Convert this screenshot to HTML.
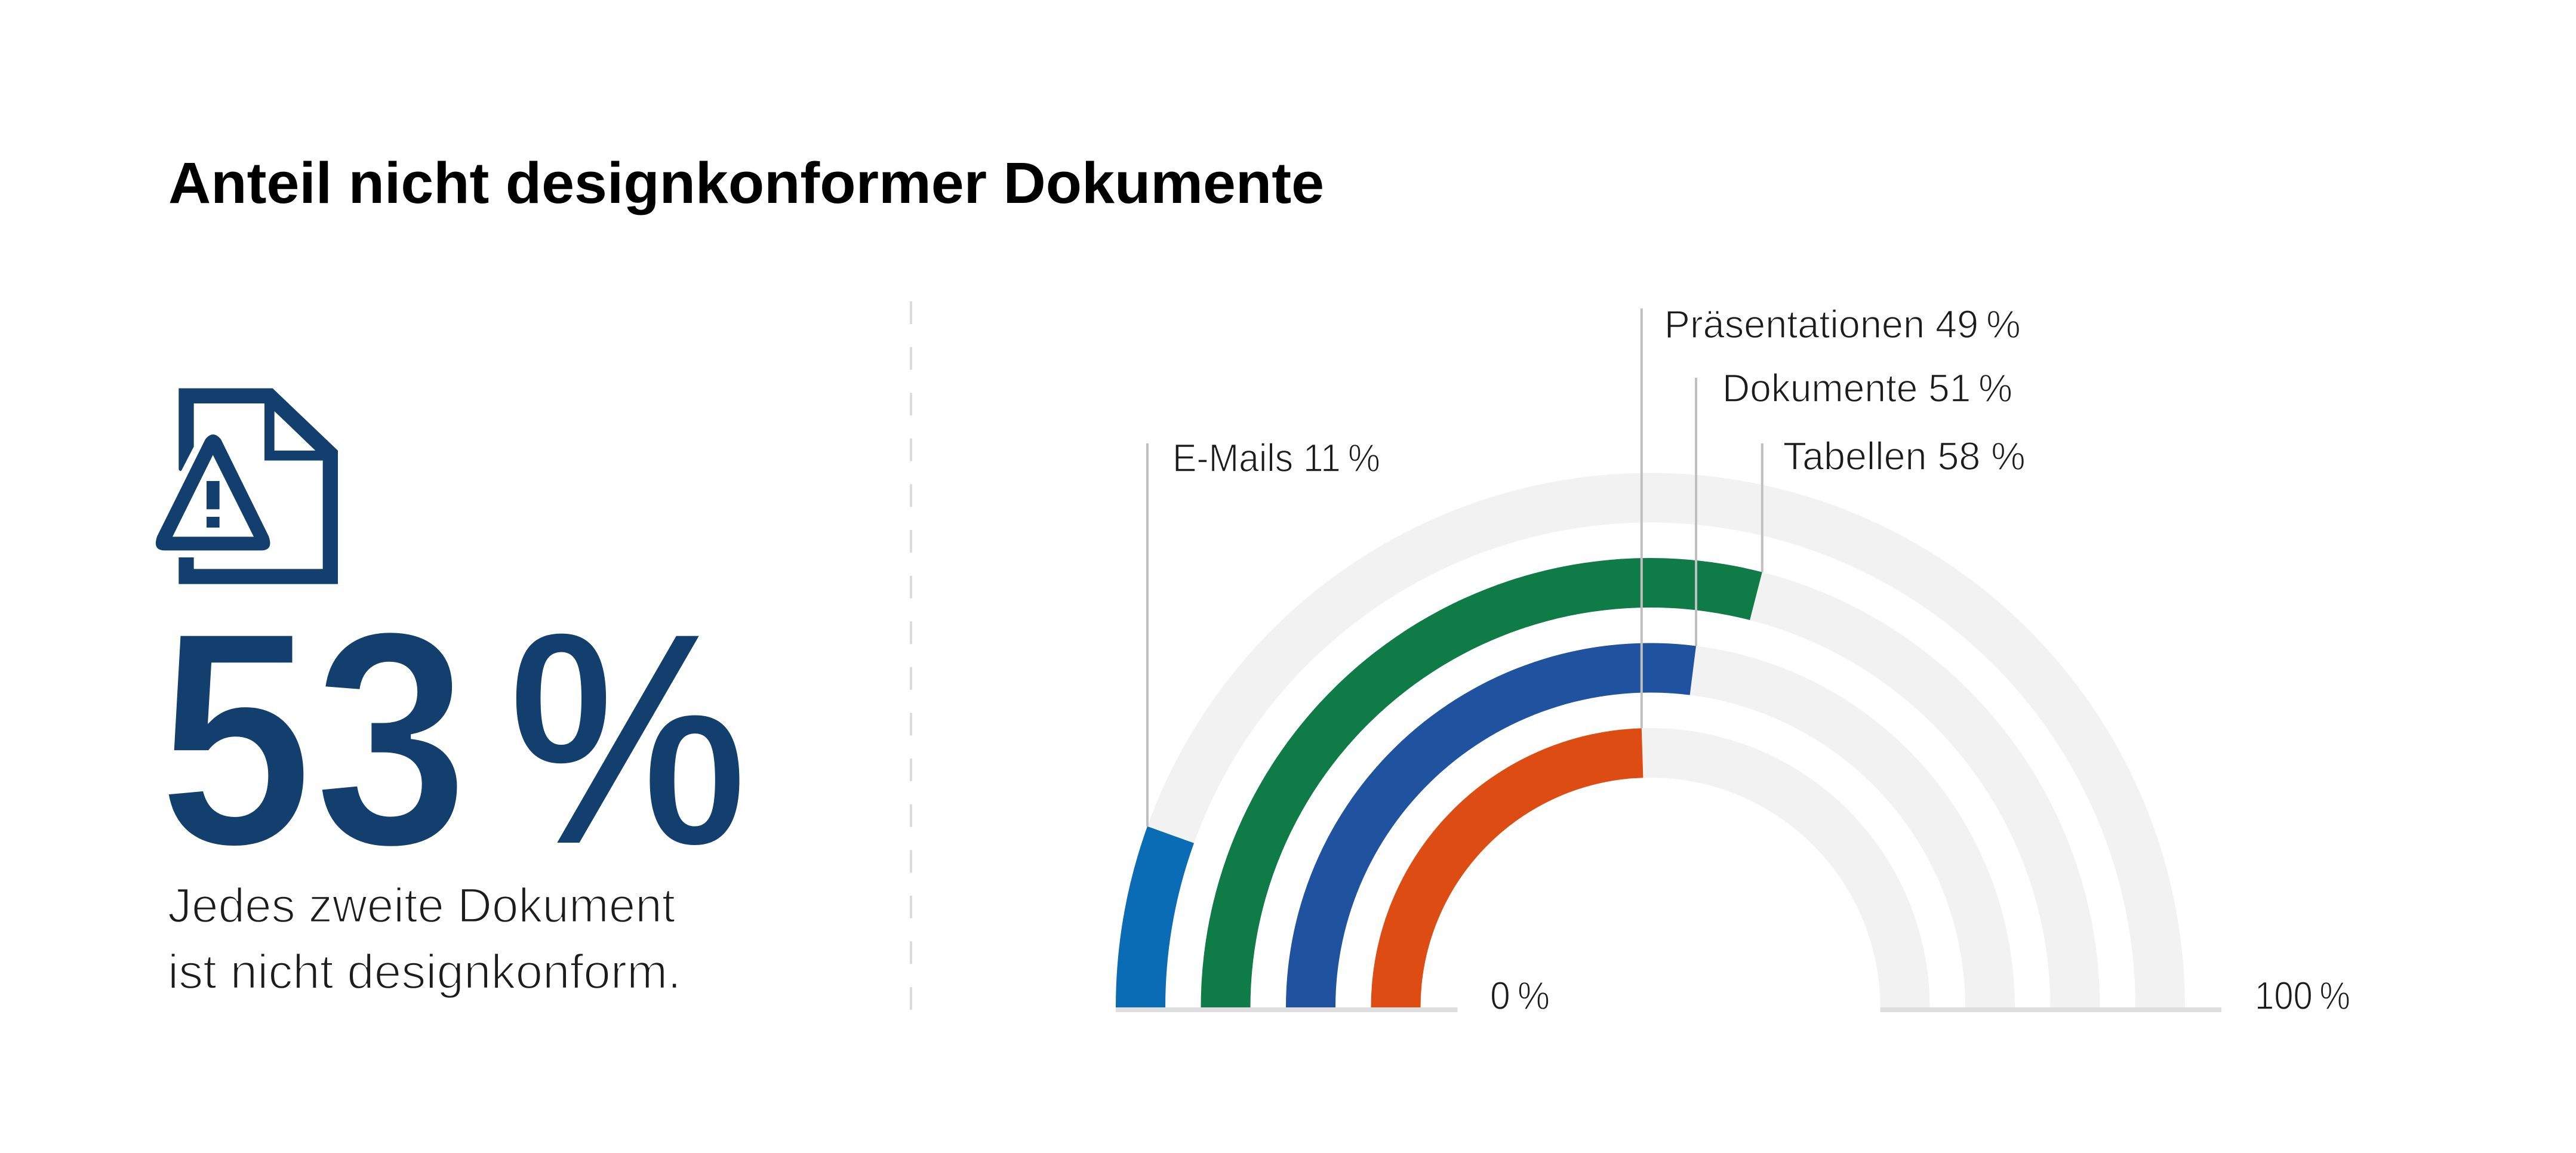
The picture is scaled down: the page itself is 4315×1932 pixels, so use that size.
<!DOCTYPE html>
<html lang="de">
<head>
<meta charset="utf-8">
<title>Anteil nicht designkonformer Dokumente</title>
<style>
html,body{margin:0;padding:0;background:#fff;width:4315px;height:1932px;overflow:hidden}
svg{display:block}
text{font-family:"Liberation Sans",sans-serif}
.light{fill:#1c1c1c;stroke:#fff;paint-order:normal}
</style>
</head>
<body>
<svg id="root" xmlns="http://www.w3.org/2000/svg" width="4315" height="1932" viewBox="0 0 4315 1932">
  <rect width="4315" height="1932" fill="#fff"/>
  <text x="282" y="340" font-size="97" font-weight="700" fill="#000" textLength="1936" lengthAdjust="spacingAndGlyphs">Anteil nicht designkonformer Dokumente</text>

  <g transform="translate(240 630) scale(.33333)" fill="#123f6d" fill-rule="evenodd">
    <path d="M178 62H650L978 375V1046H178V912H254V970H902V425H609V138H254V355L192 475Q184 482 178 470ZM659 177V375H865Z"/>
    <path d="M312 318Q350 270 390 318L630 805Q655 875 595 877H105Q45 875 70 805ZM350 397L147 808H555Z"/>
    <rect x="318" y="528" width="65" height="142"/>
    <rect x="318" y="708" width="65" height="54"/>
  </g>

  <text x="264" y="1416" font-size="515" font-weight="700" fill="#123f6d" stroke="#fff" stroke-width="8" textLength="522" lengthAdjust="spacingAndGlyphs">53</text>
  <text x="850" y="1416" font-size="515" font-weight="700" fill="#123f6d" stroke="#fff" stroke-width="8" textLength="404" lengthAdjust="spacingAndGlyphs">%</text>
  <text class="light" x="281" y="1545" font-size="82" stroke-width="2.4" textLength="850" lengthAdjust="spacingAndGlyphs">Jedes zweite Dokument</text>
  <text class="light" x="281" y="1656" font-size="82" stroke-width="2.4" textLength="860" lengthAdjust="spacingAndGlyphs">ist nicht designkonform.</text>

  <line x1="1526" y1="505" x2="1526" y2="1697" stroke="#dcdcdc" stroke-width="4" stroke-dasharray="38 38.6"/>

  <g id="chart"></g>
</svg>
<script>
// Chart data, outermost ring first
const categories = ['E-Mails', 'Tabellen', 'Dokumente', 'Präsentationen'];
// Drawn share of each ring in percent, read from the arc ends
const shareValues = [11, 58, 54, 49];
// Percent values as printed in the labels
const printedValues = [11, 58, 51, 49];
const seriesColors = ['#0a6cb5', '#0f7b46', '#1f539f', '#dc4c13'];
const axisTicks = [0, 100];

const NS = 'http://www.w3.org/2000/svg';
const chart = document.getElementById('chart');
const CX = 2764.5, CY = 1688, R_OUTER = 895.5, R_INNER = 385, BAND = 83, PITCH = 142.5;

function angleOf(v) { return Math.PI * (1 - v / 100); }
function pointAt(v, r) {
  const a = angleOf(v);
  return [CX + r * Math.cos(a), CY - r * Math.sin(a)];
}
function ringOuter(i) { return R_OUTER - i * PITCH; }
function bandPath(from, to, rOut, rIn) {
  const p1 = pointAt(from, rOut), p2 = pointAt(to, rOut), p3 = pointAt(to, rIn), p4 = pointAt(from, rIn);
  const large = (to - from) > 100 ? 1 : 0;
  return 'M' + p1.join(' ') + 'A' + rOut + ' ' + rOut + ' 0 ' + large + ' 1 ' + p2.join(' ') +
         'L' + p3.join(' ') + 'A' + rIn + ' ' + rIn + ' 0 ' + large + ' 0 ' + p4.join(' ') + 'Z';
}
function make(tag, attrs) {
  const el = document.createElementNS(NS, tag);
  for (const k in attrs) el.setAttribute(k, attrs[k]);
  chart.appendChild(el);
  return el;
}

categories.forEach(function (name, i) {
  const rOut = ringOuter(i), rIn = rOut - BAND, v = shareValues[i];
  const key = name.toLowerCase();
  const track = make('path', { d: bandPath(v, 100, rOut, rIn), fill: '#f2f2f2' });
  
  
  const fill = make('path', { d: bandPath(0, v, rOut, rIn), fill: seriesColors[i] });
  
  
});

// Baseline segments and the 0 % / 100 % labels
function drawAxisSegment(tick) {
  const isStart = tick === axisTicks[0];
  const x1 = isStart ? CX - R_OUTER : CX + R_INNER;
  const x2 = isStart ? CX - R_INNER + 62 : CX + R_OUTER + 61;
  const seg = make('rect', { x: x1, y: CY, width: x2 - x1, height: 8, fill: '#dedede' });
  
  
  const label = make('text', {
    x: isStart ? 2496 : 3777, y: 1691, 'font-size': 66, 'stroke-width': 1.5, class: 'light',
    textLength: isStart ? 100 : 160, lengthAdjust: 'spacingAndGlyphs'
  });
  label.textContent = tick + '\u2009%';
  
  
}
axisTicks.forEach(drawAxisSegment);

// Leader lines and category labels
function labelSpec(i) {
  if (i === 0) return { top: 743, base: 790, dx: 42, len: 348, sep: '\u2009' };
  if (i === 1) return { top: 743, base: 787, dx: 35, len: 406, sep: ' ' };
  if (i === 2) return { top: 633, base: 673, dx: 44, len: 486, sep: '\u2009' };
  return { top: 517, base: 566, dx: 38, len: 597, sep: '\u2009' };
}
categories.forEach(function (name, i) {
  const spec = labelSpec(i);
  const end = pointAt(shareValues[i], ringOuter(i));
  const key = name.toLowerCase();
  const leader = make('line', { x1: end[0], x2: end[0], y1: spec.top, y2: end[1], stroke: '#bfbfbf', 'stroke-width': 4 });
  
  
  const label = make('text', {
    x: end[0] + spec.dx, y: spec.base, 'font-size': 66, 'stroke-width': 1.5, class: 'light',
    textLength: spec.len, lengthAdjust: 'spacingAndGlyphs'
  });
  label.textContent = name + ' ' + printedValues[i] + spec.sep + '%';
  
  
});
</script>
</body>
</html>
